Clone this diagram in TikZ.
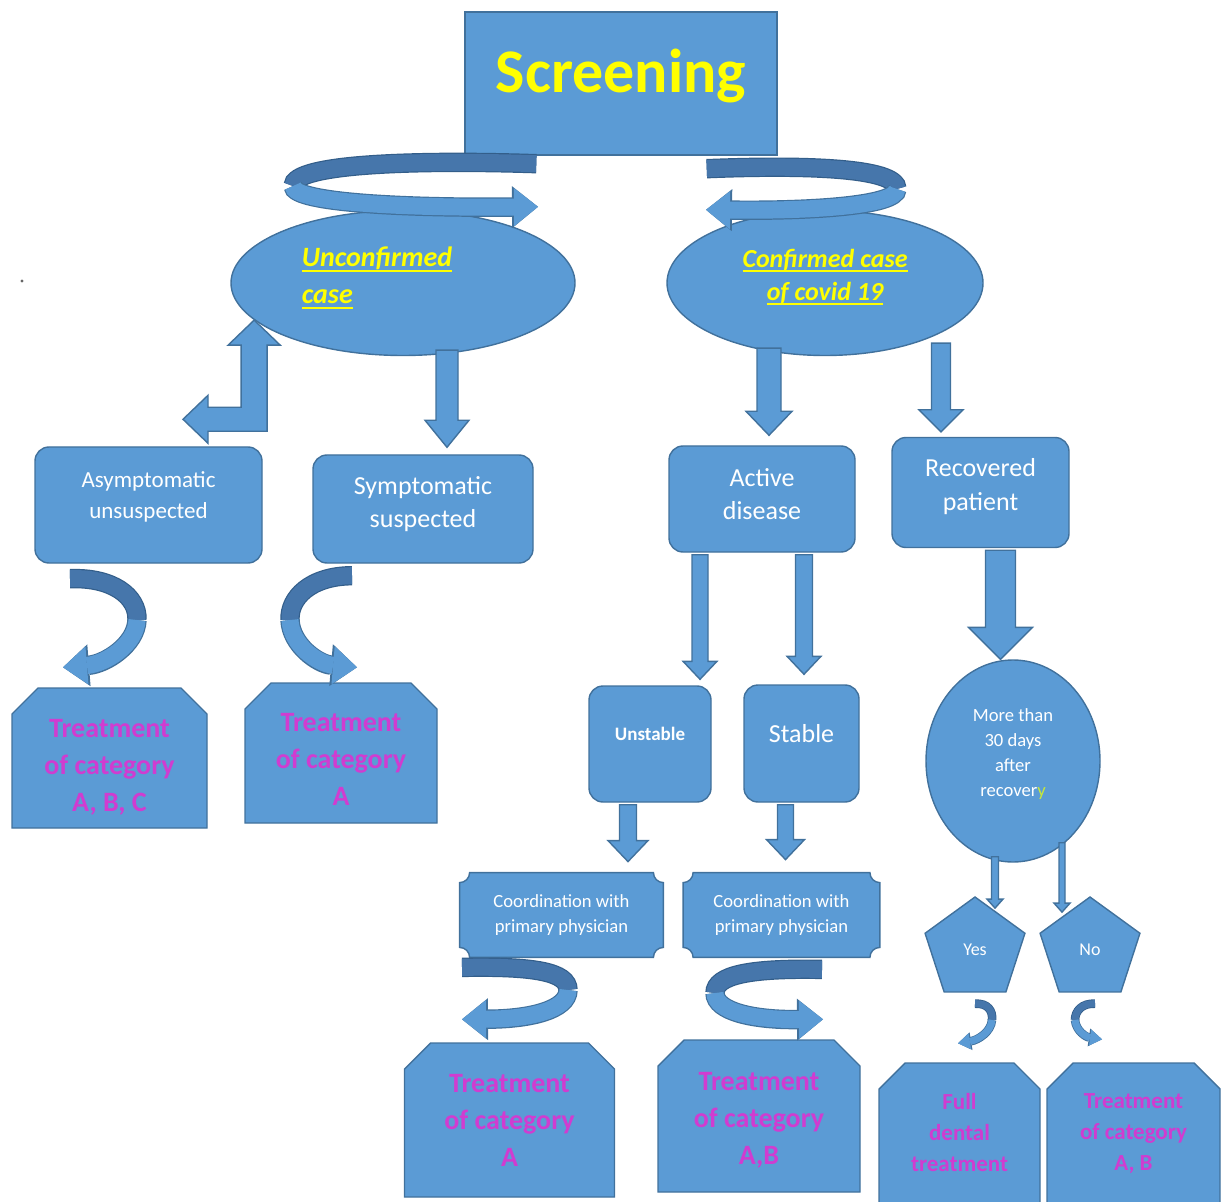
\documentclass[tikz,border=0pt]{standalone}
\usepackage{fontspec}
\setmainfont{Carlito}
\usetikzlibrary{shapes.geometric,shapes.misc,calc,arrows.meta}

\definecolor{boxfill}{HTML}{5B9BD5}
\definecolor{boxline}{HTML}{41719C}
\definecolor{ribdark}{HTML}{4676AB}
\definecolor{ribedge}{HTML}{335E8A}
\definecolor{titleyellow}{HTML}{FFFF00}
\definecolor{treatpink}{HTML}{D03CD0}
\definecolor{limey}{HTML}{C6E83A}

\pgfdeclarelayer{background}
\pgfsetlayers{background,main}

\tikzset{
  bluebox/.style={fill=boxfill, draw=boxline, line width=0.7pt, text=white, inner sep=0pt, align=center},
  roundbox/.style={bluebox, rounded corners=7pt},
  snipbox/.style={bluebox, chamfered rectangle, chamfered rectangle corners={north west,north east},
    chamfered rectangle sep=6.5pt, text=treatpink, font=\fontsize{14}{18.5}\selectfont\bfseries},
  plaquebox/.style={inner sep=0pt, align=center, text=white, font=\fontsize{9.3}{12.5}\selectfont},
  oval/.style={bluebox, ellipse},
  pent/.style={bluebox, regular polygon, regular polygon sides=5, minimum size=52.5pt,
    font=\fontsize{9}{11}\selectfont},
  arrowfill/.style={fill=boxfill, draw=boxline, line width=0.7pt},
  downarrow/.style n args={3}{arrowfill, to path={
      ($(\tikztostart)+(-#1,0)$) -- ($(\tikztostart |- \tikztotarget)+(-#1,-#3)$)
      -- ($(\tikztostart |- \tikztotarget)+(-#2,-#3)$) -- (\tikztostart |- \tikztotarget)
      -- ($(\tikztostart |- \tikztotarget)+(#2,-#3)$) -- ($(\tikztostart |- \tikztotarget)+(#1,-#3)$)
      -- ($(\tikztostart)+(#1,0)$) -- cycle}},
  ribback/.style={draw=ribdark, line width=8.5pt, preaction={draw=ribedge, line width=9.7pt}},
  ribfront/.style={draw=boxfill, line width=8.5pt, -{Triangle[length=12pt,width=19pt,line width=0pt]},
    preaction={draw=boxline, line width=9.7pt, -{Triangle[length=13pt,width=21pt,line width=0pt]}}},
  ribsmallback/.style={draw=ribdark, line width=3.5pt, preaction={draw=ribedge, line width=4.3pt}},
  ribsmallfront/.style={draw=boxfill, line width=3.5pt, -{Triangle[length=6pt,width=8pt,line width=0pt]},
    preaction={draw=boxline, line width=4.3pt, -{Triangle[length=6.6pt,width=9pt,line width=0pt]}}},
}

% thicker underline for the two case titles
\newcommand{\yellowline}[1]{\setbox0=\hbox{#1}\rlap{\rule[-2.6pt]{\wd0}{1pt}}\box0}

% frame with cut-in corners for the coordination boxes
\newcommand{\plaqueframe}[1]{%
  \filldraw[arrowfill]
    ([xshift=5pt]#1.north west) -- ([xshift=-5pt]#1.north east)
    arc[start angle=180, end angle=270, radius=5pt]
    -- ([yshift=5pt]#1.south east)
    arc[start angle=90, end angle=180, radius=5pt]
    -- ([xshift=5pt]#1.south west)
    arc[start angle=0, end angle=90, radius=5pt]
    -- ([yshift=-5pt]#1.north west)
    arc[start angle=270, end angle=360, radius=5pt]
    -- cycle;}

\begin{document}
\begin{tikzpicture}[x=0.5pt,y=-0.5pt]
\useasboundingbox (0,0) rectangle (1224,1202);

% top
\node[bluebox, minimum width=156pt, minimum height=71.5pt, text=titleyellow,
  font=\fontsize{31}{36}\selectfont\bfseries, text height=22pt, text depth=13pt] (scr) at (621,83.5) {Screening};

\node[oval, minimum width=172pt, minimum height=72.5pt, text=titleyellow, align=left, text depth=7.5pt,
  font=\fontsize{14}{18.5}\selectfont\bfseries\itshape] (uncf) at (403,283)
  {\yellowline{Unconfirmed}\rule{26pt}{0pt}\\\yellowline{case}};
\node[oval, minimum width=158pt, minimum height=72.5pt, text=titleyellow, text depth=8.5pt,
  font=\fontsize{13}{16.5}\selectfont\bfseries\itshape] (conf) at (825,283)
  {\yellowline{Confirmed case}\\\yellowline{of covid 19}};

% left branch
\node[roundbox, minimum width=113.5pt, minimum height=58pt, font=\fontsize{11.5}{15.5}\selectfont,
  text depth=10.3pt] (asym) at (148.5,505) {Asymptomatic\\unsuspected};
\node[roundbox, minimum width=110pt, minimum height=54pt, font=\fontsize{13}{16.5}\selectfont,
  text depth=6.6pt] (symp) at (423,509) {Symptomatic\\suspected};
\node[snipbox, minimum width=97.5pt, minimum height=70pt, text height=55pt] (trabc) at (109.5,758) {Treatment\\of category\\A, B, C};
\node[snipbox, minimum width=96pt, minimum height=70pt, text height=52pt] (tra1) at (341,753) {Treatment\\of category\\A};

% right branch
\node[roundbox, minimum width=93pt, minimum height=53pt, font=\fontsize{13}{16.5}\selectfont,
  text depth=5pt] (act) at (762,499) {Active\\disease};
\node[roundbox, minimum width=88.5pt, minimum height=55pt, font=\fontsize{13}{17}\selectfont,
  text depth=7.6pt] (reco) at (980.5,492.5) {Recovered\\patient};
\node[roundbox, minimum width=61pt, minimum height=58pt, font=\fontsize{9.5}{11}\selectfont\bfseries,
  text depth=10pt] (unst) at (650,744) {Unstable};
\node[roundbox, minimum width=57.5pt, minimum height=58.5pt, font=\fontsize{13}{16}\selectfont,
  text depth=10pt] (stab) at (801.5,743.5) {Stable};
\node[plaquebox, minimum width=101.5pt, minimum height=42pt] (coord1) at (561.5,915) {Coordination with\\primary physician};
\node[plaquebox, minimum width=98pt, minimum height=42pt] (coord2) at (781.5,915) {Coordination with\\primary physician};
\node[snipbox, minimum width=105pt, minimum height=77pt] (trab) at (509.5,1120) {Treatment\\of category\\A};
\node[snipbox, minimum width=101pt, minimum height=76pt, text height=50pt] (trab2) at (759,1116) {Treatment\\of category\\A,B};

\node[oval, minimum width=87pt, minimum height=101pt, font=\fontsize{9.3}{12.5}\selectfont, text depth=8.9pt]
  (moret) at (1013,761) {More than\\30 days\\after\\recover\textcolor{limey}{y}};
\node[pent] (yes) at (975,949.5) {Yes};
\node[pent] (no) at (1090,949.5) {No};
\node[snipbox, minimum width=80.5pt, minimum height=76pt, font=\fontsize{11.5}{15.5}\selectfont\bfseries,
  text depth=7pt] (fulld) at (959.5,1139) {Full\\dental\\treatment};
\node[snipbox, minimum width=86.5pt, minimum height=76pt, font=\fontsize{11.5}{15.5}\selectfont\bfseries,
  text depth=6.5pt] (trab3) at (1133.5,1139) {Treatment\\of category\\A, B};

\begin{pgfonlayer}{background}
  \plaqueframe{coord1}
  \plaqueframe{coord2}
\end{pgfonlayer}

\fill[black!60] (22,281) circle (0.8pt);

% straight arrows
\draw[downarrow={11}{22}{27}] ([xshift=22pt,yshift=3pt]uncf.south) to ([yshift=3.5pt]symp.north);
\draw[downarrow={12}{23}{24}] ([xshift=-28pt,yshift=4pt]conf.south) to ([yshift=5pt]act.north);
\draw[downarrow={9.5}{22}{22}] ([xshift=58pt,yshift=6.5pt]conf.south) to ([yshift=2.5pt]reco.north);
\draw[downarrow={8}{17}{18}] ([xshift=-31pt,yshift=-1pt]act.south) to ([yshift=3pt]unst.north);
\draw[downarrow={8.5}{17}{18}] ([xshift=21pt,yshift=-1pt]act.south) to ([yshift=5pt]stab.north);
\draw[downarrow={15}{32}{32}] ([xshift=10pt,yshift=-1pt]reco.south) to (moret.north);
\draw[downarrow={8.5}{20}{21}] ([xshift=-11pt,yshift=-1pt]unst.south) to ([yshift=5.5pt]coord1.north);
\draw[downarrow={8}{19}{20}] ([xshift=-8pt,yshift=-1pt]stab.south) to ([yshift=6.5pt]coord2.north);
\draw[downarrow={3.5}{8}{9}] ([xshift=-9pt,yshift=3pt]moret.south) to ([yshift=-6pt]yes.north);
\draw[downarrow={3}{8}{9}] ([xshift=24.5pt,yshift=10pt]moret.south) to ([yshift=-8pt]no.north);

% bent two-way arrow
\coordinate (elbtip) at (uncf.194);
\coordinate (elbleft) at ([xshift=17.25pt,yshift=13.5pt]asym.north);
\coordinate (elbcorner) at (elbtip |- elbleft);
\filldraw[arrowfill] (elbtip) -- ($(elbtip)+(26,25)$) -- ($(elbtip)+(13,25)$) -- ($(elbcorner)+(13,12)$)
  -- ($(elbleft)+(25,12)$) -- ($(elbleft)+(25,24)$) -- (elbleft) -- ($(elbleft)+(25,-24)$)
  -- ($(elbleft)+(25,-12)$) -- ($(elbcorner)+(-13,-12)$) -- ($(elbtip)+(-13,25)$) -- ($(elbtip)+(-26,25)$) -- cycle;

% curved ribbons
\draw[ribback] ([xshift=36pt,yshift=-4pt]scr.south west) .. controls (420,160) and (293,163) .. (293,186);
\draw[ribfront] (293,186) .. controls (293,204) and (420,208) .. ([xshift=67.5pt,yshift=1.5pt]uncf.north);
\draw[ribback] ([xshift=-35.5pt,yshift=-6.5pt]scr.south east) .. controls (800,165) and (897,167) .. (897,189);
\draw[ribfront] (897,189) .. controls (897,207) and (800,211) .. ([xshift=-59.5pt]conf.north);

\draw[ribback] ([xshift=-39.25pt,yshift=-7.5pt]asym.south) .. controls (112,577) and (138,596) .. (137,620);
\draw[ribfront] (137,620) .. controls (136,645) and (105,664) .. ([xshift=-23.25pt,yshift=10pt]trabc.north);
\draw[ribback] ([xshift=-35.5pt,yshift=-6pt]symp.south) .. controls (310,576) and (289,598) .. (290,620);
\draw[ribfront] (290,620) .. controls (291,645) and (318,664) .. ([xshift=8pt,yshift=7.5pt]tra1.north);

\draw[ribback] ([xshift=-49.75pt,yshift=-5pt]coord1.south) .. controls (535,966) and (568,972) .. (568,990);
\draw[ribfront] (568,990) .. controls (568,1010) and (530,1019) .. ([xshift=-23.75pt,yshift=11.5pt]trab.north);
\draw[ribback] ([xshift=20.25pt,yshift=-6pt]coord2.south) .. controls (750,968) and (715,975) .. (715,993);
\draw[ribfront] (715,993) .. controls (715,1012) and (755,1020) .. ([xshift=32pt,yshift=10pt]trab2.north);

\draw[ribsmallback] ([yshift=-5.5pt]yes.south) .. controls (988,1003) and (993,1011) .. (992,1020);
\draw[ribsmallfront] (992,1020) .. controls (991,1032) and (978,1040) .. ([xshift=-0.75pt,yshift=9.5pt]fulld.north);
\draw[ribsmallback] ([xshift=2.5pt,yshift=-5.5pt]no.south) .. controls (1082,1003) and (1075,1011) .. (1075,1020);
\draw[ribsmallfront] (1075,1020) .. controls (1076,1031) and (1086,1037) .. ([xshift=-15.75pt,yshift=11.5pt]trab3.north);
\end{tikzpicture}
\end{document}
